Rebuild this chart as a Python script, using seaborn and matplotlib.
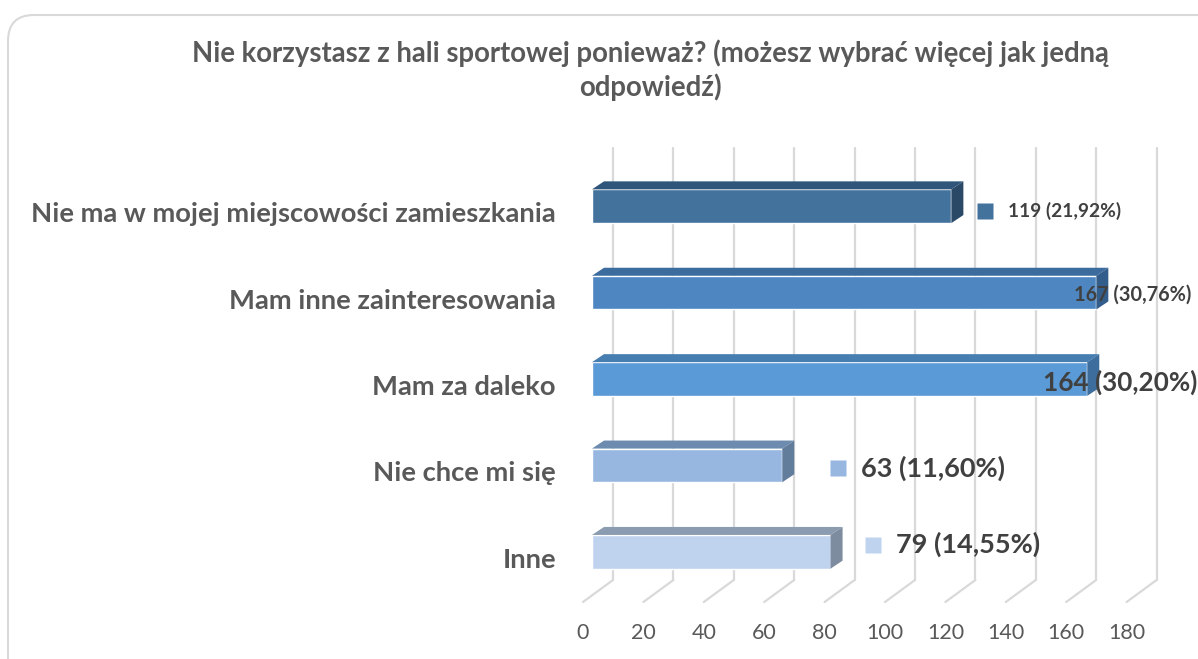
import numpy as np
import matplotlib
matplotlib.use("Agg")
import matplotlib.pyplot as plt
import seaborn as sns
from matplotlib.patches import Polygon, FancyBboxPatch
from matplotlib.transforms import ScaledTranslation, IdentityTransform, blended_transform_factory

# data
categories = ["Nie ma w mojej miejscowości zamieszkania", "Mam inne zainteresowania",
              "Mam za daleko", "Nie chce mi się", "Inne"]
counts = [119, 167, 164, 63, 79]
labels = ["119 (21,92%)", "167 (30,76%)", "164 (30,20%)", "63 (11,60%)", "79 (14,55%)"]
ticks = [0, 20, 40, 60, 80, 100, 120, 140, 160, 180]
title = "Nie korzystasz z hali sportowej ponieważ? (możesz wybrać więcej jak jedną\nodpowiedź)"

# styles
front = ["#43729D", "#4D86C1", "#5A9AD6", "#97B7E0", "#C0D3EE"]
top = ["#2F567A", "#3C6C9E", "#467EB2", "#6D8AAF", "#8C9CB0"]
side = ["#2A4967", "#335D8A", "#3C6D9C", "#627C9C", "#7D8C9F"]
# label placement (px from bar end, px vertical), square shown, font size
lab_dx = [27, -22, -44, 49, 35]
lab_dy = [5, 2, 3, 3, -7]
lab_sq = [True, False, False, True, True]
lab_fs = [13.8, 14.3, 18.8, 19.5, 19.5]

sns.set_style("white")
plt.rcParams["font.family"] = ["Lato", "DejaVu Sans"]
GRAY = "#595959"

W, H = 1198, 659
fig = plt.figure(figsize=(W / 100, H / 100), dpi=100)
fig.patch.set_facecolor("white")
ax = fig.add_axes([592 / W, (H - 595) / H, 543.6 / W, 432 / H])

sns.barplot(x=counts, y=categories, hue=categories, palette=front, legend=False,
            orient="h", width=0.39, saturation=1, ax=ax, zorder=3)
ax.set_xlim(0, 180)
ax.set_ylim(4.5, -0.5)
ax.axis("off")


def off(dx, dy):
    return ScaledTranslation(dx / 100, -dy / 100, fig.dpi_scale_trans)


# back wall gridlines + floor lines (3D look)
bt = blended_transform_factory(ax.transData, ax.transAxes)
for t in ticks:
    ax.plot([t, t], [0, 1], color="#D9D9D9", lw=1.6, transform=bt + off(21, -15),
            clip_on=False, zorder=0)
    p0 = (bt + off(21, -15)).transform((t, 0))
    p1 = (bt + off(-9, 7)).transform((t, 0))
    ax.plot([p0[0], p1[0]], [p0[1], p1[1]], color="#D9D9D9", lw=1.6,
            transform=IdentityTransform(), clip_on=False, zorder=0)
    ax.text(t, 0, str(t), transform=bt + off(-9, 38), ha="center", va="center",
            fontsize=15.5, color=GRAY, clip_on=False)

# bar depth faces
fig.canvas.draw()
h = 0.39 / 2
ddx, ddy = 12, 8
for i, v in enumerate(counts):
    x0, yt = ax.transData.transform((0, i - h))
    x1, yb = ax.transData.transform((v, i + h))
    topface = [(x0, yt), (x1, yt), (x1 + ddx, yt + ddy), (x0 + ddx, yt + ddy)]
    sideface = [(x1, yt), (x1 + ddx, yt + ddy), (x1 + ddx, yb + ddy), (x1, yb)]
    ax.add_patch(Polygon(topface, closed=True, fc=top[i], ec="none",
                         transform=IdentityTransform(), clip_on=False, zorder=3))
    ax.add_patch(Polygon(sideface, closed=True, fc=side[i], ec="none",
                         transform=IdentityTransform(), clip_on=False, zorder=3))

# data labels
for i, v in enumerate(counts):
    if lab_sq[i]:
        ax.plot([v], [i], marker="s", ms=11, color=front[i], mec="none",
                transform=ax.transData + off(lab_dx[i] + 7, lab_dy[i]), clip_on=False, zorder=4)
        tx = lab_dx[i] + 30
    else:
        tx = lab_dx[i]
    ax.text(v, i, labels[i], transform=ax.transData + off(tx, lab_dy[i]),
            ha="left", va="center", fontsize=lab_fs[i], fontweight="bold",
            color="#404040", clip_on=False, zorder=5)

# category labels
for i, c in enumerate(categories):
    ax.text(0, i, c, transform=ax.transData + off(-36, 8), ha="right", va="center",
            fontsize=19.7, fontweight="bold", color=GRAY)

fig.text(650 / W, 1 - 70 / H, title, ha="center", va="center", fontsize=19.8,
         fontweight="bold", color=GRAY, linespacing=1.3)

# chart border
border = FancyBboxPatch((8, -30), 1240, H - 15 + 30, boxstyle="round,pad=0,rounding_size=26",
                        fc="none", ec="#D9D9D9", lw=1.5, transform=IdentityTransform())
fig.patches.append(border)

fig.savefig("out.png", dpi=100)
